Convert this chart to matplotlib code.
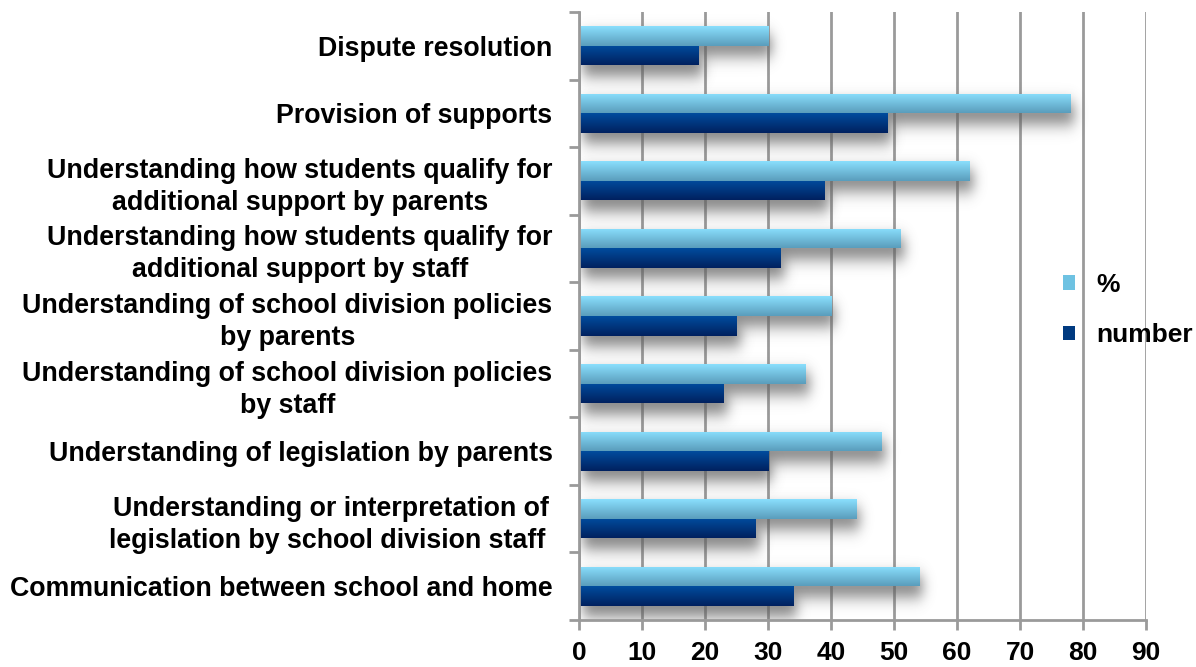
import math
import numpy as np
import matplotlib
matplotlib.use("Agg")
import matplotlib.pyplot as plt
from matplotlib.colors import LinearSegmentedColormap
from matplotlib.patches import Patch

# ---- data -------------------------------------------------------------
categories = [
    "Dispute resolution",
    "Provision of supports",
    "Understanding how students qualify for\nadditional support by parents",
    "Understanding how students qualify for\nadditional support by staff",
    "Understanding of school division policies\nby parents",
    "Understanding of school division policies\nby staff",
    "Understanding of legislation by parents",
    "Understanding or interpretation of\nlegislation by school division staff ",
    "Communication between school and home",
]
pct_values = [30, 78, 62, 51, 40, 36, 48, 44, 54]
number_values = [19, 49, 39, 32, 25, 23, 30, 28, 34]
series_names = ["%", "number"]
x_ticks = [0, 10, 20, 30, 40, 50, 60, 70, 80, 90]

# ---- style ------------------------------------------------------------
plt.rcParams["font.family"] = ["Liberation Sans", "DejaVu Sans"]
plt.rcParams["font.weight"] = "bold"

light_top, light_bot = "#8ADFFD", "#5A9DBC"
dark_top, dark_bot = "#004C9E", "#00215F"
grid_col = "#9A9A9A"

fig = plt.figure(figsize=(11.96, 6.67), dpi=100)
ax = fig.add_axes([0.4841, 0.0705, 0.4741, 0.9115])

y = np.arange(len(categories))
bar_h = 0.29

erf = np.vectorize(math.erf)


def soft_shadow(x0, x1, y0, y1, dx=0.6, dy=0.15, sx=0.95, sy=0.12, alpha=0.85):
    """Blurred drop shadow behind a rectangle given in data units."""
    xl, xr = x0 + dx - 3 * sx, x1 + dx + 3 * sx
    yt, yb = y0 + dy - 3 * sy, y1 + dy + 3 * sy
    xs = np.linspace(xl, xr, 300)
    ys = np.linspace(yt, yb, 120)
    px = 0.5 * (erf((xs - (x0 + dx)) / (sx * math.sqrt(2)))
                - erf((xs - (x1 + dx)) / (sx * math.sqrt(2))))
    py = 0.5 * (erf((ys - (y0 + dy)) / (sy * math.sqrt(2)))
                - erf((ys - (y1 + dy)) / (sy * math.sqrt(2))))
    img = np.zeros((len(ys), len(xs), 4))
    img[..., :3] = 0.38
    img[..., 3] = alpha * np.outer(py, px)
    ax.imshow(img, extent=(xl, xr, yb, yt), origin="upper", aspect="auto",
              interpolation="bilinear", zorder=1.5)


def gradient_fill(patch, top, bottom):
    cmap = LinearSegmentedColormap.from_list("g", [top, bottom])
    x0, y0 = patch.get_x(), patch.get_y()
    w, h = patch.get_width(), patch.get_height()
    grad = np.linspace(0, 1, 64).reshape(-1, 1)
    im = ax.imshow(grad, cmap=cmap, extent=(x0, x0 + w, y0 + h, y0),
                   origin="upper", aspect="auto", interpolation="bilinear",
                   zorder=2.1)
    im.set_clip_path(patch)


bars_pct = ax.barh(y - bar_h / 2, pct_values, height=bar_h, color=light_bot,
                   linewidth=0, zorder=2, label=series_names[0])
bars_num = ax.barh(y + bar_h / 2, number_values, height=bar_h, color=dark_bot,
                   linewidth=0, zorder=2, label=series_names[1])

for p in list(bars_pct) + list(bars_num):
    soft_shadow(p.get_x(), p.get_x() + p.get_width(),
                p.get_y(), p.get_y() + p.get_height())
for p in bars_pct:
    gradient_fill(p, light_top, light_bot)
for p in bars_num:
    gradient_fill(p, dark_top, dark_bot)

# ---- axes -------------------------------------------------------------
ax.set_xlim(0, 90)
ax.set_ylim(len(categories) - 0.5, -0.5)
ax.set_xticks(x_ticks)
ax.set_xticklabels([str(t) for t in x_ticks], fontsize=19, fontweight="bold")
ax.set_yticks(y)
ax.set_yticklabels(categories, fontsize=19.3, fontweight="bold",
                   multialignment="center", linespacing=1.3)
ax.set_yticks(np.arange(-0.5, len(categories)), minor=True)

ax.tick_params(axis="y", which="major", length=0, pad=19)
ax.tick_params(axis="y", which="minor", length=7, width=2, color=grid_col,
               direction="out")
ax.tick_params(axis="x", which="major", length=7, width=2, color=grid_col,
               direction="out", pad=8)

ax.set_axisbelow(True)
ax.grid(axis="x", color=grid_col, linewidth=2)
for side in ("top", "right"):
    ax.spines[side].set_visible(False)
for side in ("left", "bottom"):
    ax.spines[side].set_color(grid_col)
    ax.spines[side].set_linewidth(2)

handles = [Patch(facecolor="#6EC2E2", edgecolor="none"),
           Patch(facecolor="#003A80", edgecolor="none")]
fig.legend(handles, series_names, loc="center left",
           bbox_to_anchor=(0.8888, 0.535), frameon=False,
           prop={"size": 19, "weight": "bold"},
           handlelength=0.45, handleheight=0.45, handletextpad=0.8,
           labelspacing=1.0, borderpad=0, borderaxespad=0)

fig.savefig("out.png", dpi=100)
